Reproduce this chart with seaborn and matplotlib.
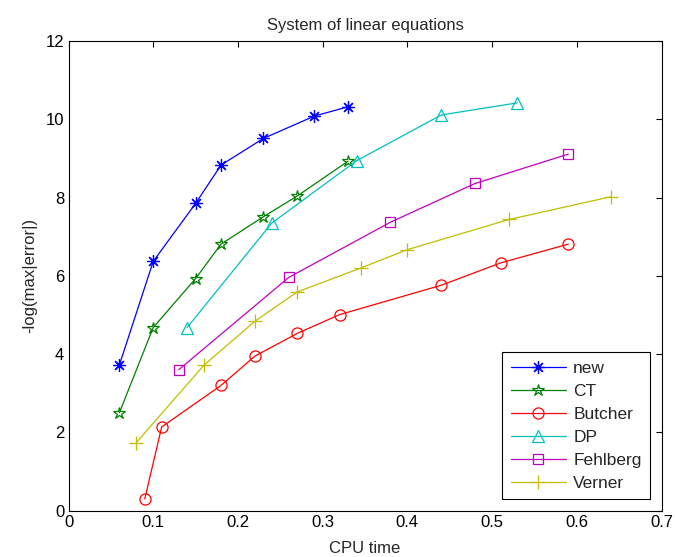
import matplotlib
matplotlib.use('Agg')
import matplotlib.pyplot as plt
import pandas as pd
import seaborn as sns

# values
new_x = [0.06, 0.10, 0.15, 0.18, 0.23, 0.29, 0.33]
new_y = [3.72, 6.37, 7.85, 8.83, 9.51, 10.08, 10.32]

ct_x = [0.06, 0.10, 0.15, 0.18, 0.23, 0.27, 0.33]
ct_y = [2.50, 4.68, 5.93, 6.81, 7.51, 8.04, 8.93]

butcher_x = [0.09, 0.11, 0.18, 0.22, 0.27, 0.32, 0.44, 0.51, 0.59]
butcher_y = [0.30, 2.14, 3.20, 3.95, 4.53, 5.01, 5.76, 6.33, 6.81]

dp_x = [0.14, 0.24, 0.34, 0.44, 0.53]
dp_y = [4.68, 7.35, 8.94, 10.11, 10.42]

fehlberg_x = [0.13, 0.26, 0.38, 0.48, 0.59]
fehlberg_y = [3.60, 5.96, 7.37, 8.36, 9.11]

verner_x = [0.08, 0.16, 0.22, 0.27, 0.345, 0.40, 0.52, 0.64]
verner_y = [1.74, 3.72, 4.84, 5.59, 6.20, 6.67, 7.44, 8.02]

methods = ['new', 'CT', 'Butcher', 'DP', 'Fehlberg', 'Verner']
series = [(new_x, new_y), (ct_x, ct_y), (butcher_x, butcher_y),
          (dp_x, dp_y), (fehlberg_x, fehlberg_y), (verner_x, verner_y)]
colors = ['#0000ff', '#008000', '#ff0000', '#00bfbf', '#bf00bf', '#bfbf00']
markers = [(8, 2, 0), '*', 'o', '^', 's', '+']
msizes = [9, 9, 8, 9, 7, 10]

sns.set_style('white')
plt.rcParams['font.family'] = ['Liberation Sans', 'DejaVu Sans']

fig = plt.figure(figsize=(6.75, 5.57), dpi=100)
ax = fig.add_axes([0.1015, 0.0831, 0.8785, 0.8433])

for name, (xs, ys), c, m, ms in zip(methods, series, colors, markers, msizes):
    df = pd.DataFrame({'x': xs, 'y': ys})
    sns.lineplot(data=df, x='x', y='y', ax=ax, sort=False, color=c,
                 marker=m, markersize=ms, markerfacecolor='none',
                 markeredgecolor=c, markeredgewidth=0.9, linewidth=0.9,
                 label=name)

ax.set_xlim(0, 0.7)
ax.set_ylim(0, 12)
ax.set_xticks([0, 0.1, 0.2, 0.3, 0.4, 0.5, 0.6, 0.7])
ax.set_xticklabels(['0', '0.1', '0.2', '0.3', '0.4', '0.5', '0.6', '0.7'])
ax.set_yticks(range(0, 13, 2))
ax.tick_params(direction='in', top=True, right=True, length=4,
               labelsize=12, width=0.8, colors='black', pad=3)
for sp in ax.spines.values():
    sp.set_color('black')
    sp.set_linewidth(0.8)

ax.set_title('System of linear equations', fontsize=12, pad=8)
ax.set_xlabel('CPU time', fontsize=12, labelpad=8)
ax.set_ylabel('-log(max|error|)', fontsize=12, labelpad=6)

leg = ax.legend(loc='lower right', fontsize=12.5, fancybox=False,
                edgecolor='black', framealpha=1, borderaxespad=0.65,
                handlelength=3.2, handletextpad=0.4, labelspacing=0.45,
                borderpad=0.5)
leg.get_frame().set_linewidth(0.8)

fig.savefig('out.png', dpi=100)
